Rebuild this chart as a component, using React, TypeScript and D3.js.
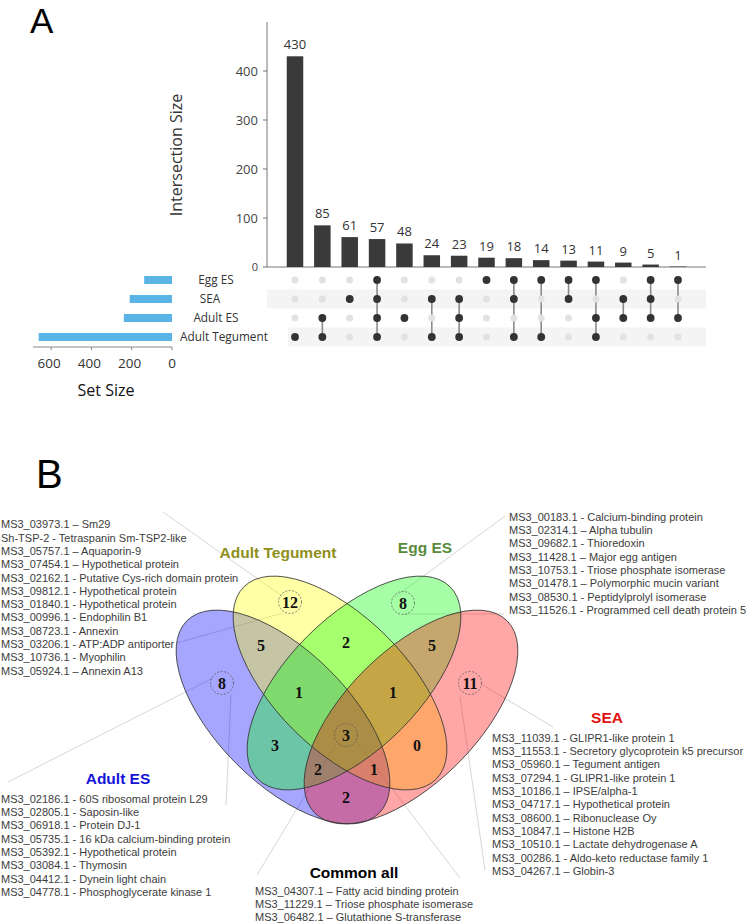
import React from "react";
import * as d3 from "d3";

// ---------- Panel A data (UpSet) ----------
const setNames = ["Egg ES", "SEA", "Adult ES", "Adult Tegument"];
const setSizes = [138, 210, 239, 662];
const setSizeTicks = [0, 200, 400, 600];
const intersectionSizes = [430, 85, 61, 57, 48, 24, 23, 19, 18, 14, 13, 11, 9, 5, 1];
// rows follow setNames: Egg ES, SEA, Adult ES, Adult Tegument
const memberships = [
  [0, 0, 0, 1], [0, 0, 1, 1], [0, 1, 0, 0], [1, 1, 1, 1], [0, 0, 1, 0],
  [0, 1, 0, 1], [0, 1, 1, 1], [1, 0, 0, 0], [1, 1, 0, 1], [1, 0, 0, 1],
  [1, 1, 0, 0], [1, 0, 1, 1], [0, 1, 1, 0], [1, 1, 1, 0], [1, 0, 1, 0],
];
const intersectionTicks = [0, 100, 200, 300, 400];

// ---------- Panel B data (Venn) ----------
const vennSetNames = ["Adult ES", "Adult Tegument", "Egg ES", "SEA"];
const vennFillColors = ["#0000ff", "#ffff00", "#00ff00", "#ff0000"];
const vennTitleColors = ["#1414d8", "#8f8f1c", "#5a8a3c", "#e01010"];
// region counts: AES, Teg, Egg, SEA, Teg∩AES, Teg∩Egg, Egg∩SEA, Teg∩Egg∩AES, Teg∩Egg∩SEA,
// AES∩Egg, Teg∩SEA, all, AES∩Egg∩SEA, Teg∩SEA∩AES, AES∩SEA
const vennRegionCounts = [8, 12, 8, 11, 5, 2, 5, 1, 1, 3, 0, 3, 2, 1, 2];
const vennCircled = [true, true, true, true, false, false, false, false, false, false, false, true, false, false, false];

const tegumentList = [
  "MS3_03973.1 – Sm29",
  "Sh-TSP-2 - Tetraspanin Sm-TSP2-like",
  "MS3_05757.1 – Aquaporin-9",
  "MS3_07454.1 – Hypothetical protein",
  "MS3_02162.1 - Putative Cys-rich domain protein",
  "MS3_09812.1 - Hypothetical protein",
  "MS3_01840.1 - Hypothetical protein",
  "MS3_00996.1 - Endophilin B1",
  "MS3_08723.1 - Annexin",
  "MS3_03206.1 - ATP:ADP antiporter",
  "MS3_10736.1 - Myophilin",
  "MS3_05924.1 – Annexin A13",
];
const eggList = [
  "MS3_00183.1 - Calcium-binding protein",
  "MS3_02314.1 – Alpha tubulin",
  "MS3_09682.1 - Thioredoxin",
  "MS3_11428.1 – Major egg antigen",
  "MS3_10753.1 - Triose phosphate isomerase",
  "MS3_01478.1 – Polymorphic mucin variant",
  "MS3_08530.1 - Peptidylprolyl isomerase",
  "MS3_11526.1 - Programmed cell death protein 5",
];
const seaList = [
  "MS3_11039.1 - GLIPR1-like protein 1",
  "MS3_11553.1 - Secretory glycoprotein k5 precursor",
  "MS3_05960.1 – Tegument antigen",
  "MS3_07294.1 - GLIPR1-like protein 1",
  "MS3_10186.1 – IPSE/alpha-1",
  "MS3_04717.1 – Hypothetical protein",
  "MS3_08600.1 – Ribonuclease Oy",
  "MS3_10847.1 – Histone H2B",
  "MS3_10510.1 – Lactate dehydrogenase A",
  "MS3_00286.1 - Aldo-keto reductase family 1",
  "MS3_04267.1 – Globin-3",
];
const adultEsList = [
  "MS3_02186.1 - 60S ribosomal protein L29",
  "MS3_02805.1 - Saposin-like",
  "MS3_06918.1 - Protein DJ-1",
  "MS3_05735.1 - 16 kDa calcium-binding protein",
  "MS3_05392.1 - Hypothetical protein",
  "MS3_03084.1 - Thymosin",
  "MS3_04412.1 - Dynein light chain",
  "MS3_04778.1 - Phosphoglycerate kinase 1",
];
const commonList = [
  "MS3_04307.1 – Fatty acid binding protein",
  "MS3_11229.1 – Triose phosphate isomerase",
  "MS3_06482.1 – Glutathione S-transferase",
];

// ---------- layout ----------
const SANS = "'Open Sans', 'Noto Sans', sans-serif";
const ARIAL = "'Liberation Sans', Arial, sans-serif";
const SERIF = "'Liberation Serif', 'Times New Roman', serif";

const ellipseLayout = [
  { cx: 283, cy: 717, rot: 45 },
  { cx: 340, cy: 683, rot: 45 },
  { cx: 354, cy: 683, rot: -45 },
  { cx: 411, cy: 717, rot: -45 },
];
const ERX = 136;
const ERY = 66;
const regionPos = [
  [222, 683], [290, 602], [403, 603], [470, 683], [261, 645], [346, 642], [432, 645],
  [299, 692], [393, 692], [275, 745], [417, 745], [346, 735], [318, 769], [374, 769], [346, 797],
];
const leaders = [
  [163, 512, 282, 596],
  [177, 643, 283, 613],
  [505, 516, 395, 597],
  [403, 614, 504, 614],
  [8, 782, 213, 678],
  [231, 695, 226, 805],
  [481, 684, 553, 727],
  [460, 697, 485, 870],
  [336, 744, 257, 875],
  [356, 741, 460, 878],
];
const titlePos = [
  [118, 784],
  [278, 557.5],
  [425, 553],
  [607, 723],
  [354, 878],
];
const setLabelX = [216, 210, 216, 224];

export default function App() {
  const x = d3.scalePoint<number>().domain(d3.range(intersectionSizes.length)).range([295, 678]);
  const y = d3.scaleLinear().domain([0, 500]).range([267, 22]);
  const rowY = d3.scalePoint<string>().domain(setNames).range([280, 337]);
  const sx = d3.scaleLinear().domain([0, 690]).range([172, 33]);
  const barW = 16.5;

  const listBlock = (items: string[], x0: number, y0: number) =>
    items.map((t, i) => (
      <text key={t + i} x={x0} y={y0 + i * 13.3} fontFamily={ARIAL} fontSize={11} fill="#3c3c3c" dy="0.35em">
        {t}
      </text>
    ));

  return (
    <div style={{ position: "absolute", left: 0, top: 0 }}>
      <svg width={746} height={924} style={{ display: "block", background: "#fff" }}>
        {/* Panel labels */}
        <text x={30} y={33} fontFamily={ARIAL} fontSize={35} fill="#000">A</text>
        <text x={36} y={488} fontFamily={ARIAL} fontSize={40} fill="#000">B</text>

        {/* UpSet: intersection bars */}
        <line x1={267} x2={267} y1={y(500)} y2={y(0)} stroke="#777" strokeWidth={1} />
        <line x1={267} x2={706} y1={y(0)} y2={y(0)} stroke="#777" strokeWidth={1} />
        {intersectionTicks.map((t) => (
          <g key={t}>
            <line x1={263} x2={267} y1={y(t)} y2={y(t)} stroke="#777" />
            <text x={258} y={y(t)} dy="0.35em" textAnchor="end" fontFamily={SANS} fontSize={t === 0 ? 11 : 13} fill="#444">
              {t}
            </text>
          </g>
        ))}
        <text
          transform={`translate(182,155) rotate(-90)`}
          textAnchor="middle"
          fontFamily={SANS}
          fontSize={16}
          fill="#333"
        >
          Intersection Size
        </text>
        {intersectionSizes.map((v, i) => (
          <g key={i}>
            <rect x={(x(i) as number) - barW / 2} y={y(v)} width={barW} height={y(0) - y(v)} fill="#3a3a3a" />
            <text x={x(i)} y={y(v) - 7} textAnchor="middle" fontFamily={SANS} fontSize={13} fill="#333">
              {v}
            </text>
          </g>
        ))}

        {/* matrix bands */}
        <rect x={267} y={(rowY("SEA") as number) - 9.5} width={439} height={19} fill="#f4f4f4" />
        <rect x={288} y={(rowY("Adult Tegument") as number) - 9.5} width={418} height={19} fill="#f4f4f4" />

        {/* matrix dots and connectors */}
        {memberships.map((m, i) => {
          const on = setNames.filter((_, r) => m[r]);
          const ys = on.map((s) => rowY(s) as number);
          return (
            <g key={i}>
              {ys.length > 1 && (
                <line x1={x(i)} x2={x(i)} y1={d3.min(ys)} y2={d3.max(ys)} stroke="#8a8a8a" strokeWidth={1.6} />
              )}
              {setNames.map((s, r) => (
                <circle
                  key={s}
                  cx={x(i)}
                  cy={rowY(s)}
                  r={m[r] ? 3.9 : 3.5}
                  fill={m[r] ? "#333" : "#e2e2e2"}
                />
              ))}
            </g>
          );
        })}

        {/* set labels */}
        {setNames.map((s, r) => (
          <text key={s} x={setLabelX[r]} y={rowY(s)} dy="0.35em" textAnchor="middle" fontFamily={SANS} fontSize={11.8} fill="#333">
            {s}
          </text>
        ))}

        {/* set size bars */}
        {setSizes.map((v, r) => (
          <rect key={r} x={sx(v)} y={(rowY(setNames[r]) as number) - 4} width={sx(0) - sx(v)} height={8} fill="#5ab4e6" />
        ))}
        <line x1={33} x2={172} y1={347} y2={347} stroke="#888" />
        {setSizeTicks.map((t) => (
          <g key={t}>
            <line x1={sx(t)} x2={sx(t)} y1={347} y2={350} stroke="#888" />
            <text x={sx(t) - (t === 0 ? 0 : 2)} y={368} textAnchor="middle" fontFamily={SANS} fontSize={13.5} fill="#333">
              {t}
            </text>
          </g>
        ))}
        <text x={106} y={396} textAnchor="middle" fontFamily={SANS} fontSize={16} fill="#111">
          Set Size
        </text>

        {/* Venn leader lines */}
        {leaders.map((l, i) => (
          <line key={i} x1={l[0]} y1={l[1]} x2={l[2]} y2={l[3]} stroke="#c4c4c4" strokeWidth={0.7} />
        ))}

        {/* Venn ellipses fills */}
        {ellipseLayout.map((e, i) => (
          <ellipse
            key={"f" + i}
            cx={e.cx}
            cy={e.cy}
            rx={ERX}
            ry={ERY}
            transform={`rotate(${e.rot} ${e.cx} ${e.cy})`}
            fill={vennFillColors[i]}
            fillOpacity={0.35}
          />
        ))}
        {ellipseLayout.map((e, i) => (
          <ellipse
            key={"s" + i}
            cx={e.cx}
            cy={e.cy}
            rx={ERX}
            ry={ERY}
            transform={`rotate(${e.rot} ${e.cx} ${e.cy})`}
            fill="none"
            stroke="#333"
            strokeWidth={0.8}
          />
        ))}

        {/* region counts */}
        {vennRegionCounts.map((c, i) => (
          <g key={"r" + i}>
            {vennCircled[i] && (
              <circle cx={regionPos[i][0]} cy={regionPos[i][1]} r={11.5} fill="none" stroke="#555" strokeWidth={0.7} strokeDasharray="2,1.5" />
            )}
            <text x={regionPos[i][0]} y={regionPos[i][1]} dy="0.35em" textAnchor="middle" fontFamily={SERIF} fontWeight="bold" fontSize={16} fill="#111">
              {c}
            </text>
          </g>
        ))}

        {/* Venn titles */}
        {vennSetNames.map((s, i) => (
          <text key={s} x={titlePos[i][0]} y={titlePos[i][1]} textAnchor="middle" fontFamily={ARIAL} fontWeight="bold" fontSize={15.5} fill={vennTitleColors[i]}>
            {s}
          </text>
        ))}
        <text x={titlePos[4][0]} y={titlePos[4][1]} textAnchor="middle" fontFamily={ARIAL} fontWeight="bold" fontSize={15.5} fill="#000">
          Common all
        </text>

        {/* lists */}
        {listBlock(tegumentList, 1, 524.5)}
        {listBlock(eggList, 509, 517)}
        {listBlock(seaList, 492, 738)}
        {listBlock(adultEsList, 1, 799)}
        {listBlock(commonList, 255, 891)}
      </svg>
    </div>
  );
}
